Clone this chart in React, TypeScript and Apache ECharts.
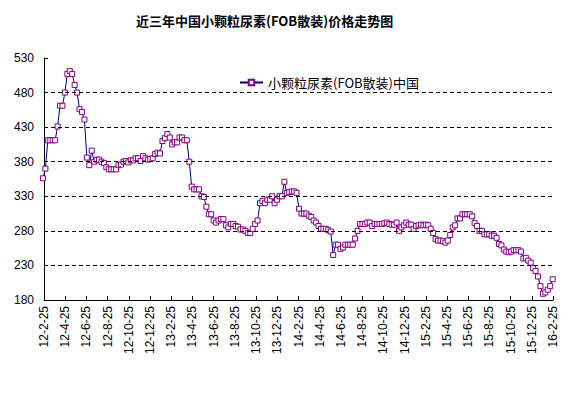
import { useEffect, useRef } from 'react';
import * as echarts from 'echarts';

const titleText = '近三年中国小颗粒尿素(FOB散装)价格走势图';
const seriesName = '小颗粒尿素(FOB散装)中国';

const tickLabels = [
  '12-2-25', '12-4-25', '12-6-25', '12-8-25', '12-10-25', '12-12-25',
  '13-2-25', '13-4-25', '13-6-25', '13-8-25', '13-10-25', '13-12-25',
  '14-2-25', '14-4-25', '14-6-25', '14-8-25', '14-10-25', '14-12-25',
  '15-2-25', '15-4-25', '15-6-25', '15-8-25', '15-10-25', '15-12-25',
  '16-2-25',
];

const yTicks = [180, 230, 280, 330, 380, 430, 480, 530];
const gridValues = [230, 280, 330, 380, 430, 480];

// weekly prices
const prices = [
  356, 370, 411, 411, 411, 411, 431, 461, 461, 480,
  507, 511, 507, 491, 480, 456, 452, 441, 386, 375,
  396, 380, 383, 383, 380, 378, 372, 369, 369, 369,
  369, 375, 376, 380, 381, 379, 382, 382, 385, 385,
  381, 388, 385, 383, 384, 385, 391, 393, 392, 410,
  414, 420, 415, 405, 408, 408, 415, 415, 411, 411,
  380, 344, 340, 340, 340, 330, 329, 315, 304, 304,
  295, 292, 295, 297, 297, 288, 285, 290, 290, 287,
  286, 282, 282, 280, 277, 277, 283, 290, 295, 320,
  323, 320, 325, 325, 330, 320, 325, 330, 330, 351,
  335, 336, 337, 337, 335, 312, 305, 305, 305, 302,
  300, 295, 292, 287, 283, 283, 283, 281, 279, 245,
  260, 260, 254, 256, 260, 260, 260, 260, 269, 280,
  290, 290, 290, 292, 292, 287, 290, 290, 290, 290,
  291, 292, 290, 289, 289, 292, 280, 285, 288, 292,
  289, 289, 283, 287, 288, 289, 288, 289, 288, 283,
  277, 268, 266, 266, 265, 263, 266, 274, 285, 288,
  298, 298, 304, 304, 304, 304, 301, 291, 287, 280,
  280, 275, 275, 275, 273, 273, 270, 261, 259, 253,
  250, 249, 250, 252, 252, 252, 250, 240, 241, 237,
  234, 226, 222, 214, 200, 189, 191, 195, 200, 210,
];

const firstDay = -3;
const stepDays = 7;
const spanDays = 1461;

export default function App() {
  const ref = useRef<HTMLDivElement>(null);
  useEffect(() => {
    const chart = echarts.init(ref.current!, null, { renderer: 'svg' });
    const data = prices.map((v, i) => [firstDay + i * stepDays, v]);
    const interval = spanDays / (tickLabels.length - 1);
    const axisFont = { fontFamily: 'Liberation Sans, Arial, sans-serif', fontSize: 12, color: '#000' };
    chart.setOption({
      animation: false,
      backgroundColor: '#ffffff',
      title: {
        text: titleText,
        left: 131,
        top: 9,
        textStyle: { fontFamily: 'Noto Sans CJK SC', fontSize: 13, fontWeight: 'bold', color: '#000' },
      },
      legend: {
        left: 239,
        top: 76,
        padding: 0,
        itemWidth: 23,
        itemHeight: 7,
        itemGap: 4,
        data: [seriesName],
        textStyle: { fontFamily: 'Noto Sans CJK SC', fontSize: 13, color: '#000' },
      },
      grid: { left: 44, top: 58, width: 509, height: 242 },
      xAxis: {
        type: 'value',
        min: 0,
        max: spanDays,
        interval,
        axisLine: { show: true, lineStyle: { color: '#000', width: 1 } },
        axisTick: { show: true, inside: true, length: 4, lineStyle: { color: '#000' } },
        splitLine: { show: false },
        axisLabel: {
          ...axisFont,
          rotate: 90,
          margin: 6,
          showMinLabel: true,
          showMaxLabel: true,
          formatter: (v: number) => tickLabels[Math.round(v / interval)] ?? '',
        },
      },
      yAxis: {
        type: 'value',
        min: yTicks[0],
        max: yTicks[yTicks.length - 1],
        interval: 50,
        axisLine: { show: true, lineStyle: { color: '#000', width: 1 } },
        axisTick: { show: true, inside: true, length: 4, lineStyle: { color: '#000' } },
        splitLine: { show: false },
        axisLabel: { ...axisFont, margin: 10 },
      },
      series: [
        {
          name: seriesName,
          type: 'line',
          data,
          symbol: 'rect',
          symbolSize: 5,
          showAllSymbol: true,
          clip: false,
          lineStyle: { color: '#000080', width: 1 },
          itemStyle: { color: '#ffffff', borderColor: '#800080', borderWidth: 1 },
          markLine: {
            silent: true,
            symbol: ['none', 'none'],
            label: { show: false },
            lineStyle: { color: '#000', width: 1, type: [4, 3] },
            data: gridValues.map((g) => ({ yAxis: g })),
          },
          z: 3,
        },
      ],
    });
    return () => chart.dispose();
  }, []);
  return (
    <div
      ref={ref}
      style={{ position: 'fixed', left: 0, top: 0, width: 576, height: 398, background: '#fff' }}
    />
  );
}
